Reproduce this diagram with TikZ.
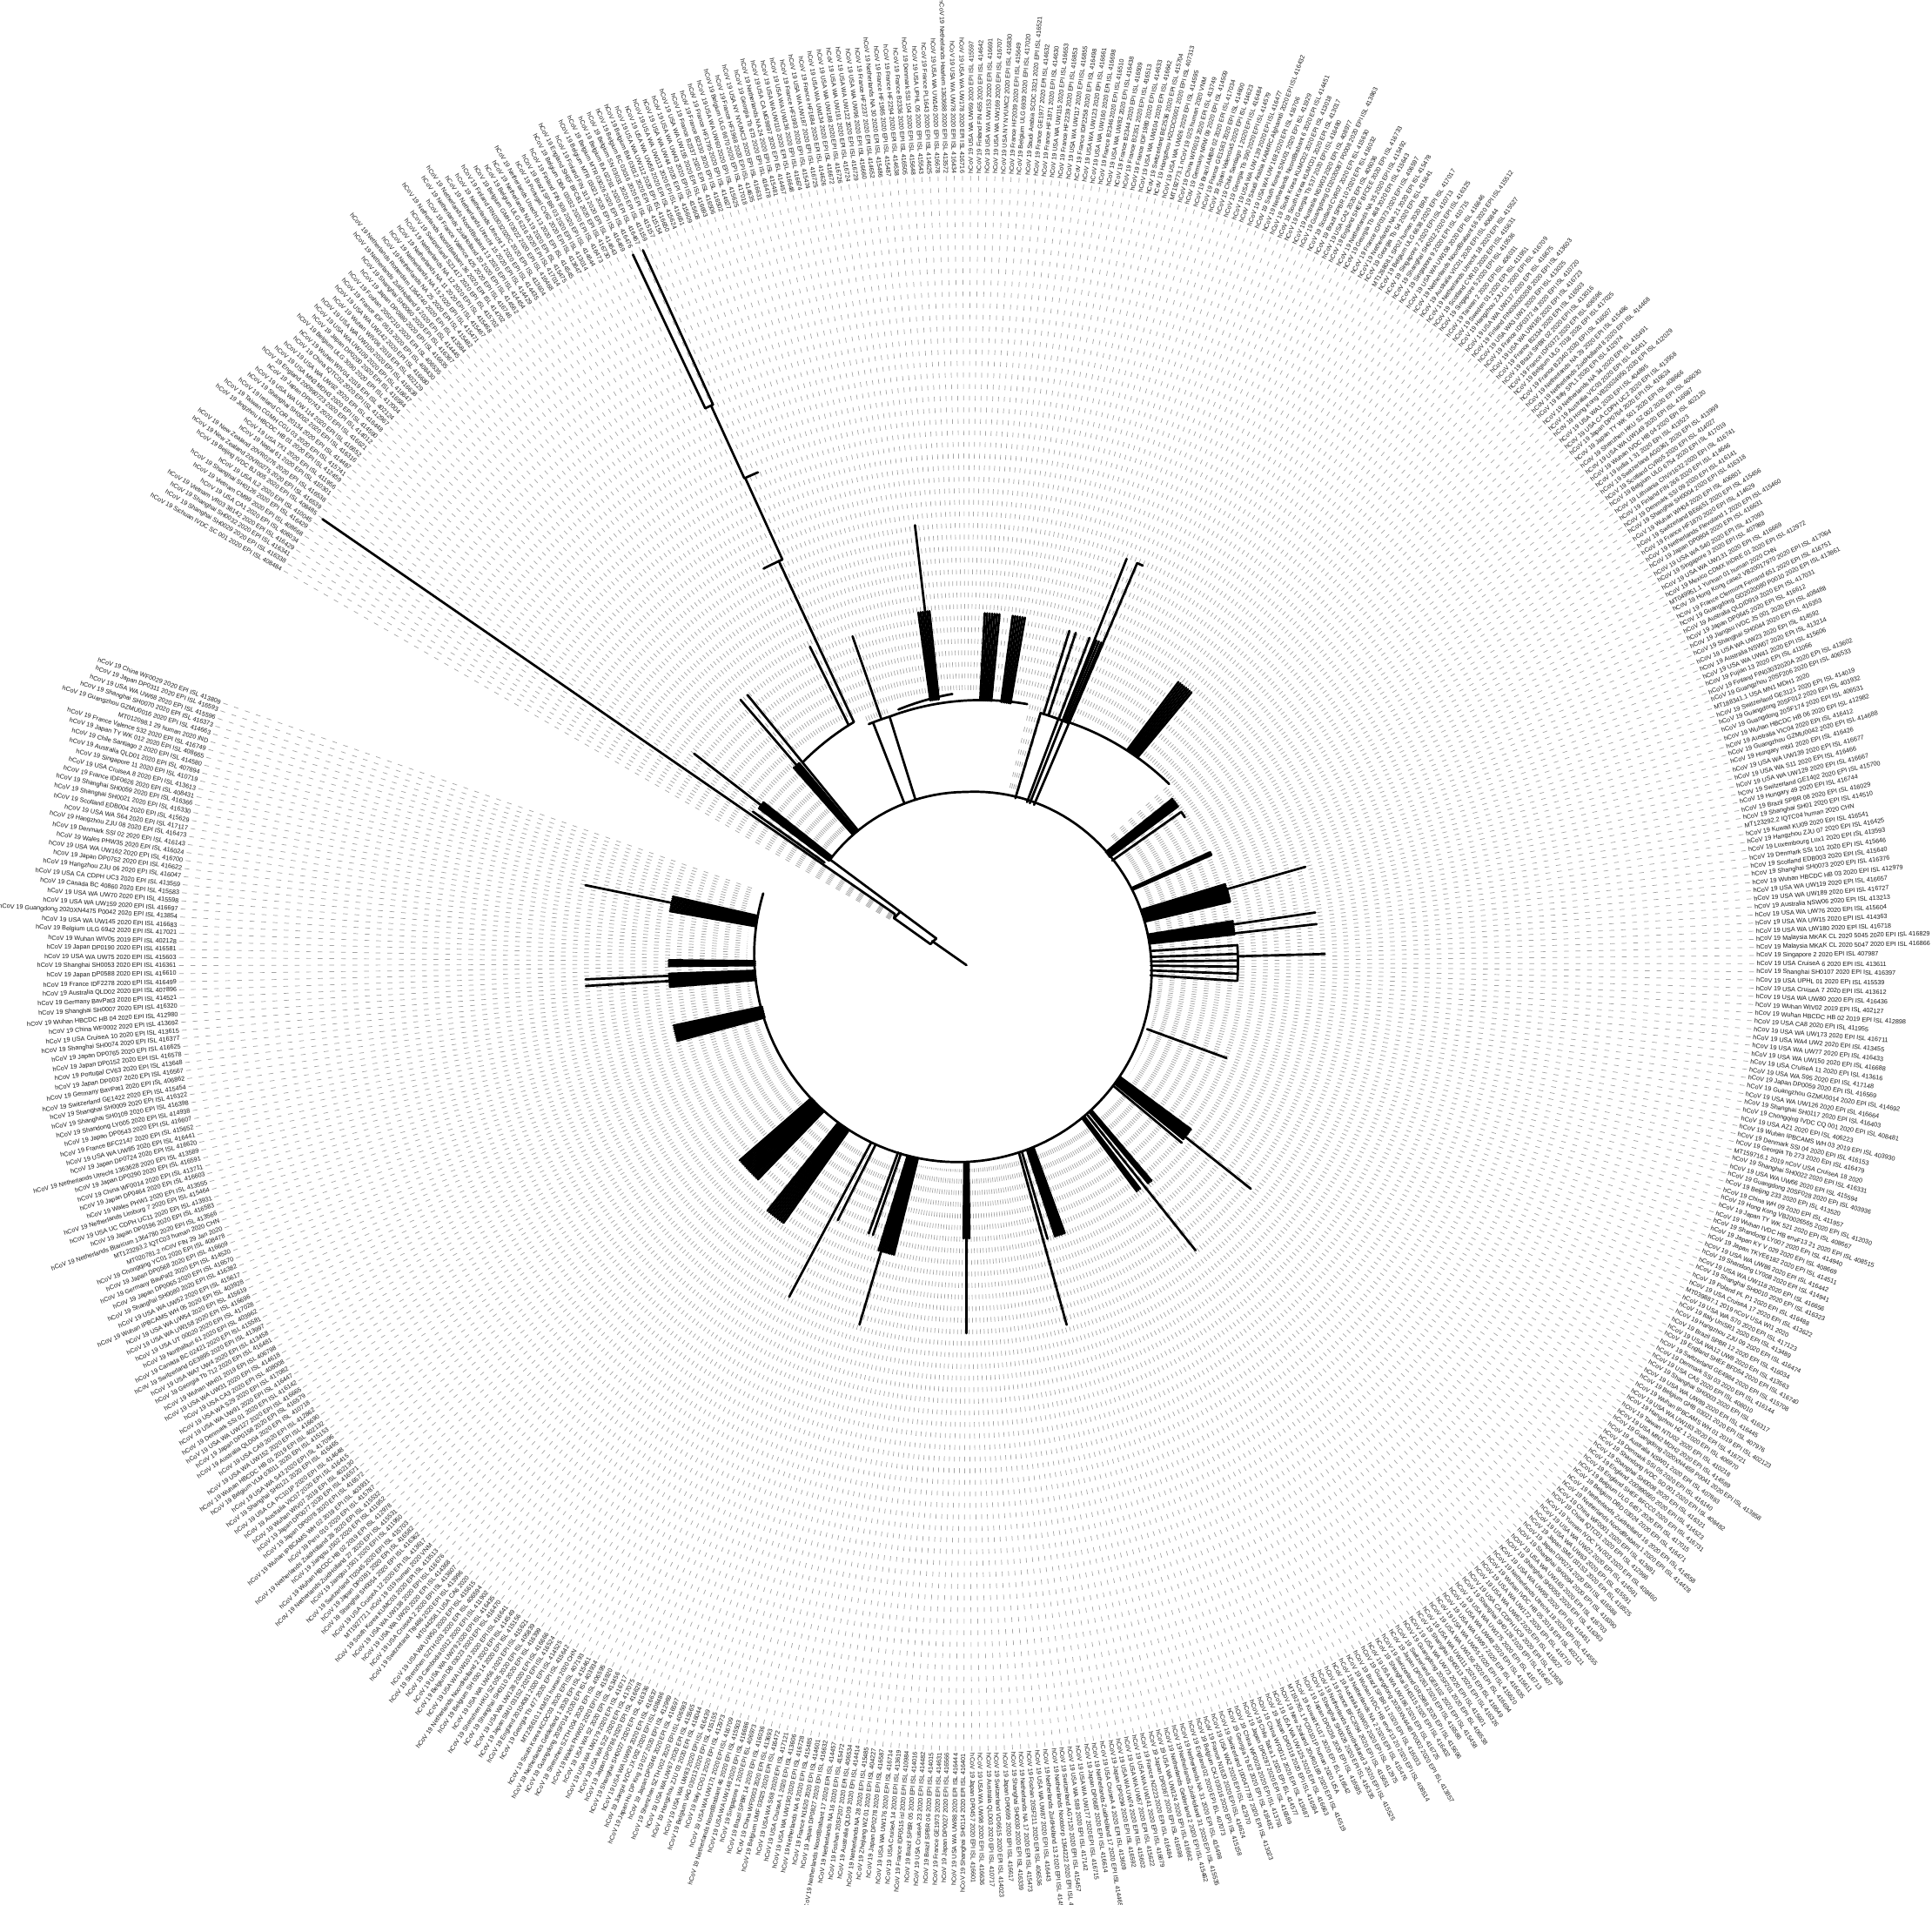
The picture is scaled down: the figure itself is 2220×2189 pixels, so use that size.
\documentclass[tikz,border=0pt]{standalone}
\usepackage{fontspec}
\setmainfont{Liberation Sans}
\def\LLa{China WF0029/413809,Japan DP0311/416593,USA WA UW68/415596,Shanghai SH0070/416373,Guangzhou GZMU0016/414663,MT012098.1 29 human 2020 IND/x,France Valence 532/416749,Japan TY WK 012/408665,Chile Santiago 2/414580,Australia QLD01/407894,Singapore 11/410719,USA CruiseA 8/413613,France IDF0626/408431,Shanghai SH0059/416366,Shanghai SH0021/416330,Scotland EDB004/415629,USA WA S64/417117,Hangzhou ZJU 08/416473,Denmark SSI 02/416143,Wales PHW35/416024,USA WA UW162/416700,Japan DP0752/416622,Hangzhou ZJU 06/416047,USA CA CDPH UC3/413559,Canada BC 40860/415583,USA WA UW70/415598,USA WA UW159/416697,Guangdong 2020XN4475 P0042/413854,USA WA UW145/416683,Belgium ULG 6942/417021,hCoV 19 Wuhan WIV05 2019 EPI ISL 402128/x,Japan DP0190/416581,USA WA UW75/415603,Shanghai SH0053/416361,Japan DP0588/416610,France IDF2278/416499,Australia QLD02/407896,Germany BavPat3/414521,Shanghai SH0007/416320,Wuhan HBCDC HB 04/412980,China WF0002/413692,USA CruiseA 10/413615,Shanghai SH0074/416377,Japan DP0765/416625,Japan DP0152/416578,Portugal CV63/413648,Japan DP0037/416567,Germany BavPat1/406862,Switzerland GE1422/415454,Shanghai SH0009/416322,Shanghai SH0109/416398,Shandong LY005/414938,Japan DP0543/416607,France BFC2147/415652,USA WA UW85/416441,Japan DP0724/416620,Netherlands Utrecht 1363628/413589,Japan DP0290/416591,China WF0014/413711,Japan DP0464/416603,Wales PHW1/413555,Netherlands Limburg 7/415464,USA UC CDPH UC11/413931,Japan DP0196/416583,Netherlands Blaricum 1364780/413566,MT123293.2 IQTC03 human 2020 CHN/x,MT020781.2 nCoV FIN 29 Jan 2020/x,Chongqing YC01/408478,Japan DP0568/416609,Germany BavPat2/414520,Japan DP0065/416570,Shanghai SH0080/416382,USA WA UW52/415617,Wuhan IPBCAMS WH 05/403928,USA WA UW54/415619,USA WA UW158/416696,USA UT 00020/417028,Northaburi 61/403962,Canada BC 02421/415581,Switzerland GE3895/413997,USA WA7 UW4/413458,Georgia Tb 712/416481,hCoV 19 Wuhan WH01 2019 EPI ISL 406798/x,USA WA UW31/414618,USA CA3/408008,USA WA S29/417082,USA WA UW91/416447,Denmark SSI 01/416142,USA WA UW127/416665,Japan DP0158/416579,Australia QLD04/410718,USA CA9/412862,USA WA UW152/416690,hCoV 19 Wuhan HBCDC HB 01 2019 EPI ISL 402132/x,Belgium VLM 03011/415153,USA WA S43/417096,Shanghai SH0121/416465,USA CA PC101P/414648,Australia VIC07/416415,hCoV 19 Wuhan WIV07 2019 EPI ISL 402130/x,Japan DP0077/416571,Japan DP0078/416572,hCoV 19 Wuhan IPBCAMS WH 02 2019 EPI ISL 403931/x,Peru 010/415787,Netherlands ZuidHolland 28/415532,Jiangsu JS02/411952,hCoV 19 Wuhan HBCDC HB 02 2019 EPI ISL 412978/x,Netherlands ZuidHolland 27/415531,Jiangsu JS01/411950,Switzerland TI2045/415703,Japan DP0191/416582,Shanghai SH0054/416362,USA CruiseA 12/413617,MT192772.1 nCoV 19 019 human 2020 VNM/x,South Korea KUMC03/413513,USA WA UW138/416676,USA WA UW20/414368,USA CruiseA 2/413607,Switzerland TI9486/413996,MT044258.1 USA CA6 2020/x,USA WA UW50/415615,Shenzhen SZTH 003/406594,Cambodia 0012/411902,USA WA UW79/416435,Belgium DB 03023/416470,USA WA UW103/416641,Netherlands NoordHolland 2/414549,Belgium SH 030 14/415156,USA WA UW56/415621,Shenzhen HKU SZ 005/405839,Shanghai SH0110/416399,USA WA UW128/416666,Japan SMU 031S2/416524,England 20104081/414525,Georgia Tb 477/415642,MT226610.1 KMS1 human 2020 CHN/x,South Korea KCDC03/407193,Netherlands Gelderland 1/415461,Guangdong 20SF014/403934,Shenzhen SZTH 004/406595,Wales PHW02/415920,USA WA S2/413456,USA WA UW179/416717,USA WA S22/417075,Japan DP0786/416628,Shanghai SH0027/416336,USA WA UW99/416637,Jiangxi IVDC JX 002/408486,Japan Hu DP Kng 19 027/412969,Japan DP0346/416597,Shenzhen SZTH 002/406593,USA WA UW67/415565,Hangzhou ZJU 03/416044,USA WA UW83/416439,Belgium VAG 03013/415155,Italy CDG1/412973,USA WA UW171/416709,Netherlands NoordBrabant 46/415503,USA WA UW148/416686,Singapore 1/406973,Brazil SPBR 14/416036,China WF0003/413693,Belgium UMF 03025/416472,USA WA S68/417121,USA CruiseA 1/413606,USA WA UW190/416728,Netherlands NA 6/415485,France N1620/414601,Japan DP0827/416632,Netherlands NoordBrabant 17/414457,Netherlands NA 16/415472,Foshan 20SF207/406534,Australia QLD09/414414,Netherlands NA 28/415485,Zhejiang WZ 01/404227,Japan DP0278/416587,USA WA UW176/416714,USA CruiseA 14/413619,France IDF0515 isl/410984,Brazil SPBR 05/414016,USA CruiseA 23/414482,Brazil SPBR 06/414015,France GE1973/414631,Japan DP0027/416566,USA WA UW88/416444}
\def\LLb{Shanghai SH0114/416401,Japan DP0457/416601,USA WA UW98/416636,Australia QLD03/410717,Switzerland VD6615/414023,Japan DP0699/416617,Shanghai SH0030/416339,Netherlands NA 17/415473,Foshan 20SF211/406536,USA WA UW87/416443,Netherlands ZuidHolland 13/414556,Netherlands Nootdorp 1364222/413575,Switzerland AG7120/415457,USA WA S89/417142,USA WA UW177/416715,Japan DP0687/416614,Netherlands ZuidHolland 17/414465,USA CruiseA 4/413609,Japan DP0294/416592,USA WA UW74/415602,USA WA UW57/415622,USA WA UW141/416679,France N2223/416484,Japan DP0367/416598,USA WA UW124/416662,Netherlands Gelderland 2/415462,Netherlands ZuidHolland 31/415535,Netherlands NA 31/415498,England 02/407073,Belgium CKJ 03016/415158,France N1620/414624,USA WA2/412970,Switzerland 1000477797/413023,Georgia Tb 82/416482,China WF0028/413791,Japan DP0287/416589,Chile Talca 1/414577,China WF0012/413687,Japan DP0318/416594,USA WA UW125/416663,New Zealand 20VR0189/416519,MT192765.1 PC00101P human 2020 USA/x,Kuwait KU17/416542,Japan DP0236/416585,Shanghai SH0026/416335,Netherlands NoordHolland 3/415525,France BFC2094/415651,Australia NSW05/412975,Netherlands NA 2/415476,Wuhan IVDC HB envF13 20/408514,Brazil SPBR 11/416033,Guangdong 2020XN4448 P0002/413857,USA WA UW186/416725,Shanghai SH0115/416402,Switzerland GR2988/415696,Japan DP0261/416586,Switzerland GE8102/415458,Guangdong 20SF201/406538,USA WA UW73/415601,Shanghai SH0013/416326,USA WA UW111/416649,USA WA UW156/416694,USA WA UW55/415620,USA WA UW97/416635,USA WA UW48/415611,USA WA UW175/416713,Shanghai SH0128/416407,USA CA CDPH UC9/413928,USA WA UW62/415627,USA WA UW172/416710,hCoV 19 Wuhan IVDC HB 05 2019 EPI ISL 402121/x,Netherlands Utrecht 18/414555,USA WA UW95/416451,Shanghai SH0055/416363,USA WA UW165/416703,Shanghai SH0094/416390,Japan DP0274/416588,Japan SMU 031S3/416525,USA WA UW63/415591,USA WA UW22/414591,Yunnan IVDC YN 003/408460,China IQTC01/412966,China WF0001/413691,Netherlands NoordBrabant 1/414428,Netherlands ZuidHolland 16/414558,Belgium DBD 03024/416471,Belgium ULG 6457/417015,England SHEF BFCC0/416731,England 200990660/414523,Shanghai SH0008/416321,Shandong IVDC SD 001/408482,Denmark SSI 05/416140,Australia NSW01/407893,Guangdong 2020XN4459 P0041/413858,USA MN2 MDH2/414589,Taiwan NTU02/410218,Hangzhou HZ 1/406970,USA WA UW183/416721,hCoV 19 Wuhan IPBCAMS WH 01 2019 EPI ISL 402123/x,Belgium GHB 03021/407976,USA WA UW89/416445,Shanghai SH0003/416317,USA CA5/408010,Denmark SSI 03/416144,Switzerland GE4984/415708,England SHEF BFD54/416740,USA WA12 UW8/413563,Brazil SPBR 12/416034,Hangzhou ZJU 09/416474,Italy UniSR1/413489,USA WA S70/417123,MT039887.1 2019 nCoV USA WI1 2020/x,USA CruiseA 17/413622,Poland PL P1/416488,Shanghai SH0010/416323,USA WA UW118/416656,Shandong LY008/414941,USA WA UW86/416442,Japan TKYE6182/414511,Japan KY V 029/408669,Shandong LY007/414940,Wuhan IVDC HB envF13 21/408515,Japan TY WK 521/408667,Hong Kong VB20026565/412030,China WH 09/411957,Beijing 233/413520,Guangdong 20SF028/403936,USA WA UW66/415594,Shanghai SH0022/416331,MT159716.1 2019 nCoV USA CruiseA 18 2020/x,Georgia Tb 273/416479,Denmark SSI 04/416153,hCoV 19 Wuhan IPBCAMS WH 03 2019 EPI ISL 403930/x,USA AZ1/406223,Chongqing IVDC CQ 001/408481,Shanghai SH0117/416403,USA WA UW126/416664,Guangzhou GZMU0014/414692,Japan DP0059/416569,USA WA S95/417148,USA CruiseA 11/413616,USA WA UW150/416688,USA WA UW77/416433,USA WA4 UW2/413455,USA WA UW173/416711,USA CA8/411955,hCoV 19 Wuhan HBCDC HB 02 2019 EPI ISL 412898/x,hCoV 19 Wuhan WIV02 2019 EPI ISL 402127/x,USA WA UW80/416436,USA CruiseA 7/413612,USA UPHL 01/415539,Shanghai SH0107/416397,USA CruiseA 6/413611}
\def\LLc{Singapore 2/407987,Malaysia MKAK CL 2020 5047/416866,Malaysia MKAK CL 2020 5045/416829,USA WA UW180/416718,USA WA UW15/414363,USA WA UW76/415604,Australia NSW06/413213,USA WA UW189/416727,USA WA UW119/416657,Wuhan HBCDC HB 03/412979,Shanghai SH0073/416376,Scotland EDB003/415640,Denmark SSI 101/415646,Luxembourg Lux1/413593,Hangzhou ZJU 07/416425,Kuwait KU09/416541,MT123292.2 IQTC04 human 2020 CHN/x,Shanghai SH01/414510,Brazil SPBR 08/416029,Hungary 49/416744,Switzerland GE1402/415700,USA WA UW129/416667,USA WA S11/416466,USA WA UW139/416677,Hungary mbl1/416426,Guangzhou GZMU0042/414688,Australia VIC04/416412,Wuhan HBCDC HB 06/412982,Guangdong 20SF174/406531,Guangdong 20SF012/403932,Switzerland GE3121/414019,MT188341.1 USA MN1 MDH1 2020/x,Guangzhou 20SF206/406533,Finland FIN03032020A/413602,Fujian 13/411066,USA WA UW41/415606,Australia NSW07/413214,USA WA UW23/414592,Shanghai SH0044/416353,Jiangsu IVDC JS 001/408488,Japan DP0645/416612,Australia QLDID919/417031,Guangdong GD2020080 P0010/413861,France Clermont Ferrand 651/416751,Hong Kong case2 VB20017970/417064,MT049951.1 Yunnan 01 human 2020 CHN/x,Mexico CDMX InDRE 01/412972,USA WA UW131/416669,Singapore 3/407988,USA WA S40/417093,Japan DP0804/416631,Netherlands Flevoland 1/415460,France HF1870/414629,Switzerland BE6651/415456,Wuhan WH04/406801,Shanghai SH0004/416318,Denmark SSI 09/416141,Finland FIN 266/414646,Lithuania ChVir1632/416741,Belgium ULG 6754/417019,Scotland CVR05/414027,Switzerland AG0361/413999,India 1 31/413523,Wuhan IVDC HB 04/402120,USA WA UW149/416687,Shenzhen HKU SZ 002/406030,Japan TY WK 501/408666,Japan DP0764/416624,USA CA CDPH UC2/413558,USA WA1/404895,Hong Kong VB20024950/412029,Australia VIC03/416411,Netherlands NA 34/415491,Italy SPL1/412974,Netherlands ZuidHolland 8/414468,Netherlands NA 29/415486,France B2340/416507,Belgium ULG 7018/417025,France IDF0372/406596,Brazil SPBR 02/413016,France B2334/416503,USA WA UW185/416723,France IDF0372 isl/410720,USA WA3 UW1/413025,Finland FIN03032020B/413603,USA WA UW137/416675,Hangzhou ZJU 01/416709,Sweden 01/411951,Taiwan 2/406031,Singapore 5/410536,Scotland CVR10/415631,Netherlands Utrecht 18/415527,Australia VIC01/406844,Netherlands NoordBrabant 56/415512,USA WA UW108/416646,Singapore 9/410715,Shanghai SH0012/416325,Singapore 7/410713,Belgium ULG 6638/417017,MT126808.1 SP02 human 2020 BRA/x,Georgia Tb 54/415641,Netherlands NA 21/415478,France IDF0373/406597,Georgia Tb 468/415643,Netherlands NA 35/415492,England SHEF BFCEE/416733,USA CA2/406036,Brazil SPBR 10/416032,Scotland CVR07/415630,Guangdong GD2020087 P0008/413863,Australia NSW03/408977,Georgia Tb 537/416480,South Korea KUMC01/413017,South Korea KUMC02/413018,Netherlands NoordBrabant 6/414451,South Korea SNU01/411929,USA WA UW 168/416706,Saudi Arabia KAIMRC Alghamdi/416432,USA WA UW 139/416477,Georgia Tb 390/414579,Chile Santiago 1/416484,Spain Valencia5/414623,France GE1583/414600,Brazil AMBR 02/417034,Germany NRW 09/414509,China WF0019/413749,MT192773.1 nCoV 19 02S human 2020 VNM/x,USA WA UW26/414595,Hangzhou HZCDC0001/407313,Switzerland BE2536/415704,USA WA UW104/416642,France IDF1980/414633,France B2351/416513,France B2344/416509,USA WA UW82/416438,France B2346/416510,USA WA UW160/416698,USA WA UW123/416661,France IDF2258/416498,USA WA UW117/416855,France HF2239/416853,USA WA UW115/416653,France HF1871/414630,France GE1977/414632,Saudi Arabia SCDC 3321/416521,Belgium ULG 6939/417020,France HF2039/415649,USA NY NYUMC2/416830,USA WA UW169/416707,USA WA UW153/416691,Finland FIN 455/414642}
\def\LLd{USA WA UW69/415597,USA WA UW178/416716,USA WA UW78/416434,Netherlands Haarlem 1363688/413572,USA WA UW140/416678,France PL1643/414625,USA UPHL 05/415543,Denmark SSI 104/415648,France B2336/416505,France HF2294/414638,France HF1985/415487,Netherlands NA 30/415486,France HF2237/414652,USA WA UW96/416660,USA WA UW122/416729,USA WA UW191/416724,USA WA UW188/416726,USA WA UW134/416672,France HF1684/414626,USA WA UW187/416725,France HF1993/415474,USA WA UW136/416674,USA WA UW110/416648,USA CA MG9897/414457,Netherlands NA 24/415481,Georgia Tb 673/416478,USA NY NYUMC3/416631,France HF1968/414635,Belgium ULG 6670/417018,USA WA UW60/415625,France HF1795/414627,France B2330/416502,France B2337/416506,USA WA UW155/416693,USA WA UW43/415608,USA WA UW44/415609,USA WA UW113/416651,USA WA UW59/415624,USA WA UW112/416650,Belgium BM 03012/415154,Belgium BC 03016/415157,Belgium SN 03031/415159,Belgium BA 02291/416467,Belgium MTR 03026/416476,Belgium MTR 03021/416469,Finland FIN 313/414643,England SHEF BFCB1/416730,Belgium DBA 03032/416473,Finland FIN 508/414644,Brazil SPBR 03/413014,Portugal CV62/413647,Netherlands Utrecht 13/414545,Netherlands NA 19/415475,Belgium ULG 6216/417014,Belgium GMH 03022/416468,Finland FIN03032020C/413604,Netherlands Utrecht 1/414435,Netherlands Utrecht 15/414429,Netherlands NoordBrabant 13/414454,Netherlands ZuidHolland 20/414562,France Valence 425/416746,Netherlands NoordBrabant 36/414702,Switzerland SZ1417/415702,Netherlands NA 12/415468,Netherlands NA 11/415467,Netherlands NA 15/415471,Netherlands NA 25/415482,Netherlands Rotterdam 1364740/413584,Netherlands ZuidHolland 9/414445,Shanghai SH0060/416367,Japan DP0880/416635,Foshan 20SF210/406535,France IDF 0515/408430,USA WA UW142/416680,hCoV 19 Wuhan WIV06 2019 EPI ISL 402129/x,USA WA UW100/416638,USA WA UW109/416647,Japan DP0200/416584,Belgium ULG 3090/417004,hCoV 19 Wuhan WIV04 2019 EPI ISL 402124/x,China IQTC02/412967,USA WA UW92/416448,USA MN3 MDH3/414590,England 200990723/414012,Japan DP0743/416621,USA WA UW 114/416652,Shanghai SH0002/416316,Ireland COR 20134/414487,Taiwan CGMH CGU 03/415741,Jingzhou HBCDC HB 01/412459,USA TX1/411956,Nepal 61/410301,New Zealand 20VR0276/416538,New Zealand 20VR0275/416539,Beijing IVDC BJ 005/408485,USA IL2/410045,Shanghai SH0126/416429,Vietnam CM99/408668,USA CA1/406034,Vietnam VR03 38142/416429,Shanghai SH0032/416341,Shanghai SH0029/416338}
\def\LLe{Sichuan IVDC SC 001/408484}
\def\xmark{x}
\newcommand\LabelSeg[4]{%
  \foreach \n/\k [count=\j] in #1 {\xdef\cntseg{\j}}%
  \pgfmathsetmacro\stp{(#3-#2)/\cntseg}%
  \foreach \n/\k [count=\i from 0] in #1 {%
    \pgfmathsetmacro\u{#2+\i*\stp}%
    \pgfmathsetmacro\rt{\u>450?197:197+0.173*(450-\u)}%
    \pgfmathsetmacro\rs{\rt+8}%
    \ifdim\u pt>505.5pt \def\rs{100}\else
    \ifdim\u pt>491pt \else
    \ifdim\u pt>489pt \def\rs{300}\else
    \ifdim\u pt>472.5pt \def\rs{312}\else
    \ifdim\u pt>467pt \def\rs{300}\else
    \ifdim\u pt>436.6pt \def\rs{312}\else
    \ifdim\u pt>433pt \else
    \ifdim\u pt>426pt \def\rs{300}\else
    \ifdim\u pt>401.5pt \def\rs{312}\fi\fi\fi\fi\fi\fi\fi\fi\fi
    \draw[tipdash] (\u:905) -- (\u:\rs);
    \pgfmathparse{(\u<270||\u>450)?1:0}%
    \ifnum\pgfmathresult=1
      \pgfmathsetmacro\rotv{\u+180}%
      \node[leaf,anchor=east,rotate=\rotv] (L#4\i) at (\u:908) {\ifx\k\xmark\n\else hCoV 19 \n\space 2020 EPI ISL \k\fi};
    \else
      \node[leaf,anchor=west,rotate=\u] (L#4\i) at (\u:908) {\ifx\k\xmark\n\else hCoV 19 \n\space 2020 EPI ISL \k\fi};
    \fi
  }%
}
\newcommand\TRad[3]{\draw[tb] (#1:#2) -- (#1:#3);}
\newcommand\TArc[3]{\draw[tb] (#1:#3) arc[start angle=#1,end angle=#2,radius=#3];}
\newcommand\TSpi[4]{\draw[tb] plot[domain=#1:#2,samples=40,variable=\t] ({\t}:{#3+(#4-#3)*(\t-#1)/(#2-#1)});}
\newcommand\TRake[4]{%
  \pgfmathtruncatemacro\mq{max(1,round(abs(#2-#1)/0.38))}%
  \foreach \q in {0,...,\mq}{\pgfmathsetmacro\aq{#1+(#2-#1)*\q/\mq}\draw[tb] (\aq:#3) -- (\aq:#4);}%
}
\tikzset{
  tb/.style={line width=2.7pt,line cap=round,line join=round,draw=black},
  tipdash/.style={draw=black!36,line width=0.7pt,dash pattern=on 5.5pt off 7.8pt},
  leaf/.style={inner sep=0pt,outer sep=0pt,font=\fontsize{7.24}{8}\selectfont,text=black!90}
}
\begin{document}
\begin{tikzpicture}[x=1pt,y=1pt]
\useasboundingbox (0,0) rectangle (2220,-2189);
\fill[white] (0,0) rectangle (2220,-2189);
\begin{scope}[shift={(1110.5,-1107)}]
\LabelSeg{\LLa}{160.7}{269.8}{a}
\LabelSeg{\LLb}{269.8}{360.57}{b}
\LabelSeg{\LLc}{360.57}{449.7}{c}
\LabelSeg{\LLd}{449.7}{510.1}{d}
\LabelSeg{\LLe}{510.1}{510.6}{e}
% root and first nodes
\draw[tb] (0,-2) -- (147:47);
\draw[tb] (140.4:45) -- (151.8:47);
\draw[tb] (140.4:45) -- (142:96.5) -- (142.7:197);
\draw[tb] (151.8:47) -- (148:98) -- (145.4:100) -- (145.4:899);
\draw[tb] (142:96.5) -- (148:98);
% trunk spiral
\draw[tb] plot[domain=142.7:-199,samples=140,variable=\t] ({\t}:{max(197,197+0.173*(90-\t))});
% near root clades
\TRake{141.6}{143.2}{197}{298}
\TRad{142.4}{298}{395}
\TRad{144.6}{200}{301}
% clade at 130
\TRake{129.9}{131.4}{197}{300}
\TRad{130.6}{300}{399}
\TRad{129.2}{197}{398}
\TSpi{129.2}{115}{298}{306}
\TRad{116.3}{306}{406}
\TRad{115}{306}{510}
\TArc{115}{117.2}{510}
\TRad{114.5}{510}{613}
\TArc{114.5}{113}{613}
\TRad{114.6}{613}{705}
\TArc{114.4}{115.2}{705}
\TRad{114.4}{705}{900}
\TRad{115.2}{705}{900}
\draw[tb] (115:510) -- (114.5:510);
% third group
\TRad{111.2}{197}{297}
\TRad{107.3}{197}{297}
\TArc{112.2}{107.3}{297}
\TRad{109.2}{297}{398}
\TSpi{107.3}{76.8}{297}{306}
\TSpi{105}{93}{302}{310}
\TRake{97.8}{96}{305}{407}
\TRad{96.7}{407}{507}
\TRake{87}{84.6}{303}{403}
\TRake{82.4}{80.4}{303}{403}
% fourth group
\TRad{73.5}{198}{300}
\TRad{69.4}{198}{300}
\TRad{68.4}{198}{300}
\TRad{66.9}{198}{300}
\TArc{73.5}{66.9}{300}
\TRad{72.8}{300}{400}
\TRad{71.7}{300}{400}
\TRad{69.3}{300}{400}
\TRad{68.4}{300}{500}
\TRake{68.1}{67.2}{300}{400}
\TRad{66.9}{300}{500}
\TArc{66.9}{66.1}{500}
\TSpi{66.9}{41.5}{301}{311}
\TRake{53}{50.3}{308}{405}
% right side clades
\TRake{38.6}{36.6}{205}{303}
\TRad{35.2}{205}{301}
\TArc{35.2}{33.8}{302}
\TRake{24.5}{23.9}{209}{308}
\TRake{17}{13.2}{211}{311}
\TArc{16}{13.2}{311}
\TRad{15.9}{311}{405}
\TRake{9}{6.2}{212}{310}
\TRad{8.3}{310}{405}
\TRad{6.4}{310}{405}
\foreach \a in {3.85,2,0.6,-0.7,-2.2,-3.7}{\TRad{\a}{212}{311}}
\TArc{3.9}{-3.7}{312}
\TRad{1.5}{312}{412}
\TRad{-20}{221}{318}
\TRake{-36.5}{-39}{220}{321}
\TRad{-38.4}{321}{417}
\TRad{-39.8}{220}{322}
\TRake{-49.6}{-50.4}{222}{328}
\TRad{-51.4}{223}{422}
\TRake{-52.4}{-53.2}{223}{327}
\TRake{-70}{-72}{226}{330}
\TRad{-73.6}{226}{330}
\TRad{-74.5}{226}{431}
\TRake{-89.4}{-90.6}{229}{316}
\TRad{-90}{229}{425}
\TRake{-104}{-107}{231}{345}
\TRad{-106.5}{345}{433}
\TRad{-109}{231}{330}
\TRad{-109.9}{231}{330}
\TRad{-116.6}{233}{330}
\TRad{-118}{234}{434}
\TRake{-125.2}{-128.8}{236}{365}
\TRake{-134}{-139}{236}{345}
\TRake{-165}{-168}{240}{344}
\TRake{-179.5}{-180.6}{243}{342}
\TRake{-175.5}{-178}{243}{342}
\TRad{-177.6}{342}{438}
\TRad{-176.6}{342}{438}
\TRake{167.2}{170}{246}{346}
\TRad{168.4}{346}{447}
\end{scope}
\end{tikzpicture}
\end{document}
